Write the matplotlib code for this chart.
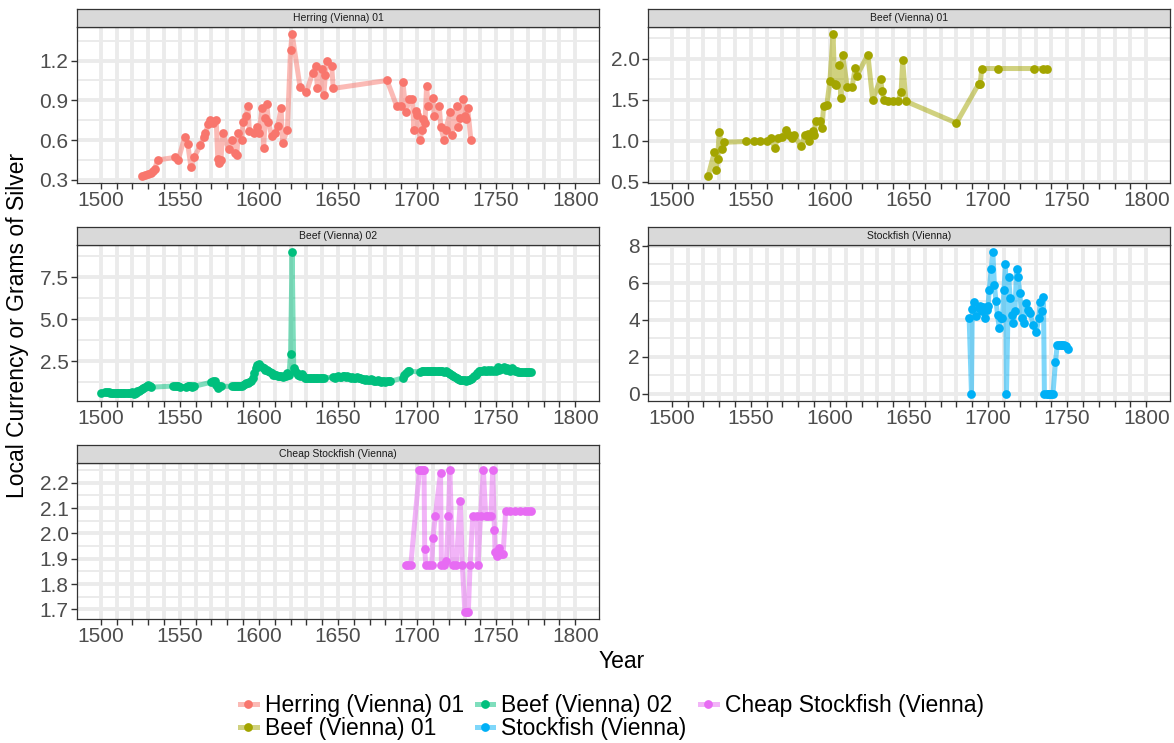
#!/usr/bin/env python3
"""Vienna price series, one small panel per commodity."""
import matplotlib
matplotlib.use("Agg")
import matplotlib.pyplot as plt
from matplotlib.lines import Line2D
from matplotlib.legend_handler import HandlerTuple

plt.rcParams['font.family'] = ['Liberation Sans', 'DejaVu Sans']

# --- data ------------------------------------------------------------------
herring_year = [1526, 1528, 1530, 1532, 1533, 1534, 1536,
                1547, 1549, 1553, 1555, 1557, 1559,
                1563, 1565, 1566, 1568, 1569, 1571, 1573,
                1574, 1575, 1576, 1577,
                1581, 1583, 1585, 1586, 1587, 1589, 1590,
                1592, 1593, 1594, 1597, 1599, 1600,
                1602, 1603, 1604, 1605, 1606, 1608, 1610,
                1612, 1614, 1615, 1618, 1620, 1621,
                1626, 1630, 1634, 1636, 1637, 1640, 1641, 1642, 1643, 1646, 1647,
                1681, 1687, 1690, 1691, 1693, 1695, 1697, 1698, 1699, 1700,
                1702, 1703, 1704, 1705, 1706, 1707, 1710, 1711,
                1714, 1715, 1717, 1718, 1721, 1722,
                1725, 1726, 1727, 1729, 1730, 1731, 1732, 1734]
herring_value = [0.33, 0.34, 0.345, 0.35, 0.37, 0.38, 0.45,
                 0.47, 0.45, 0.62, 0.57, 0.40, 0.47,
                 0.56, 0.62, 0.65, 0.72, 0.75, 0.73, 0.75,
                 0.46, 0.43, 0.45, 0.65,
                 0.53, 0.60, 0.50, 0.49, 0.65, 0.60, 0.74,
                 0.78, 0.86, 0.67, 0.65, 0.70, 0.65,
                 0.84, 0.54, 0.77, 0.87, 0.74, 0.63, 0.65,
                 0.71, 0.84, 0.58, 0.68, 1.28, 1.40,
                 1.00, 0.96, 1.11, 1.16, 0.99, 1.14, 0.94, 1.09, 1.20, 1.16, 0.99,
                 1.05, 0.86, 0.86, 1.04, 0.81, 0.91, 0.91, 0.68, 0.82, 0.79,
                 0.60, 0.68, 0.76, 0.73, 1.01, 0.86, 0.92, 0.78,
                 0.86, 0.70, 0.60, 0.68, 0.81, 0.64,
                 0.86, 0.70, 0.77, 0.91, 0.78, 0.76, 0.84, 0.60]

beef1_year = [1523, 1527, 1528, 1529, 1530, 1532, 1533,
              1547, 1552, 1556, 1560, 1563, 1565, 1567, 1570, 1572, 1574, 1576, 1577,
              1582, 1584, 1586, 1587, 1589, 1590, 1591, 1594, 1595, 1596, 1598,
              1600, 1602, 1603, 1604, 1606, 1607, 1608, 1611, 1614, 1616, 1617,
              1624, 1627, 1632, 1633, 1634, 1637, 1640, 1643, 1645, 1646, 1648,
              1680, 1694, 1695, 1696, 1706, 1729, 1735, 1737]
beef1_value = [0.57, 0.86, 0.64, 0.78, 1.10, 0.90, 0.98,
               0.99, 0.99, 0.99, 0.99, 1.03, 0.91, 1.03, 1.04, 1.13, 1.07, 1.03, 1.07,
               0.93, 1.07, 1.08, 0.99, 1.12, 1.07, 1.235, 1.235, 1.15, 1.42, 1.43,
               1.73, 2.30, 1.69, 1.68, 1.92, 1.52, 2.05, 1.65, 1.65, 1.89, 1.79,
               2.05, 1.50, 1.75, 1.61, 1.50, 1.48, 1.48, 1.48, 1.59, 1.98, 1.48,
               1.215, 1.69, 1.69, 1.88, 1.88, 1.88, 1.88, 1.88]

beef2_year = [1500, 1503, 1504, 1505, 1506, 1507, 1508, 1509, 1510, 1511,
              1512, 1513, 1514, 1515, 1516, 1517, 1518, 1519, 1520, 1521,
              1522, 1523, 1524, 1525, 1526, 1527, 1528, 1529, 1530, 1531, 1532,
              1546, 1547, 1548, 1549, 1550,
              1554, 1555, 1556, 1557, 1558, 1559,
              1570, 1571, 1572, 1573, 1574, 1575, 1576,
              1583, 1584, 1585, 1586, 1587, 1588, 1589, 1590,
              1591, 1592, 1593, 1594, 1595, 1596, 1597, 1598, 1599,
              1600, 1601, 1602, 1603, 1604, 1605, 1606, 1607, 1608,
              1609, 1610, 1611, 1612, 1613, 1614, 1615, 1616, 1617, 1618, 1619,
              1620, 1621,
              1622, 1623, 1624, 1625, 1626, 1627, 1628,
              1629, 1630, 1631, 1632, 1633, 1634, 1635, 1636, 1637, 1638, 1639, 1640, 1641,
              1647, 1648, 1649, 1650, 1651, 1652, 1653, 1654, 1655,
              1656, 1657, 1658, 1659, 1660, 1661, 1662, 1663, 1664,
              1665, 1666, 1667, 1668, 1669, 1670, 1671, 1672,
              1673, 1674, 1675, 1676, 1677, 1678, 1679, 1680, 1681, 1682, 1683,
              1691, 1692, 1693, 1694, 1695,
              1702, 1703, 1704, 1705, 1706, 1707, 1708, 1709, 1710, 1711, 1712,
              1713, 1714, 1715, 1716, 1717, 1718, 1719, 1720, 1721, 1722,
              1723, 1724, 1725, 1726, 1727, 1728, 1729,
              1730, 1731, 1732, 1733, 1734, 1735, 1736,
              1737, 1738, 1739, 1740, 1741, 1742, 1743, 1744, 1745, 1746, 1747, 1748, 1749,
              1750, 1751, 1752, 1753, 1754, 1755, 1756, 1757, 1758, 1759, 1760, 1761, 1762,
              1763, 1764, 1765, 1766, 1767, 1768, 1769, 1770, 1771, 1772]
beef2_value = [0.60, 0.65, 0.66, 0.64, 0.62, 0.60, 0.60, 0.60, 0.60, 0.60,
               0.60, 0.60, 0.60, 0.60, 0.60, 0.62, 0.62, 0.62, 0.65, 0.55,
               0.62, 0.70, 0.75, 0.80, 0.85, 0.90, 0.95, 1.00, 1.10, 1.05, 0.95,
               1.02, 1.00, 1.00, 1.02, 0.98,
               0.98, 1.00, 1.00, 1.00, 0.98, 1.00,
               1.25, 1.30, 1.34, 1.06, 0.90, 1.00, 1.00,
               1.00, 1.00, 1.02, 1.00, 1.00, 1.00, 1.02, 1.08,
               1.14, 1.20, 1.20, 1.26, 1.30, 1.50, 1.80, 2.10, 2.30,
               2.34, 2.24, 2.15, 2.10, 2.00, 1.95, 1.90, 1.85, 1.80,
               1.70, 1.66, 1.66, 1.60, 1.62, 1.60, 1.58, 1.60, 1.60, 1.80, 1.70,
               2.94, 9.00,
               2.10, 1.94, 1.80, 1.66, 1.60, 1.74, 1.60,
               1.50, 1.52, 1.48, 1.50, 1.50, 1.48, 1.50, 1.50, 1.52, 1.50, 1.48, 1.50, 1.50,
               1.55, 1.50, 1.55, 1.60, 1.55, 1.55, 1.60, 1.60, 1.55,
               1.60, 1.55, 1.50, 1.55, 1.50, 1.50, 1.55, 1.50, 1.50,
               1.45, 1.45, 1.40, 1.45, 1.40, 1.40, 1.45, 1.40,
               1.30, 1.30, 1.35, 1.30, 1.25, 1.30, 1.30, 1.25, 1.30, 1.30, 1.30,
               1.50, 1.70, 1.80, 1.90, 1.90,
               1.86, 1.90, 1.90, 1.94, 1.90, 1.90, 1.90, 1.94, 1.90, 1.90, 1.94,
               1.90, 1.90, 1.94, 1.90, 1.86, 1.90, 1.86, 1.80, 1.75, 1.70,
               1.60, 1.55, 1.50, 1.45, 1.40, 1.40, 1.38,
               1.36, 1.34, 1.36, 1.40, 1.45, 1.50, 1.60,
               1.70, 1.80, 1.90, 1.94, 1.94, 1.96, 1.94, 1.90, 1.96, 1.94, 2.00, 1.94, 2.00,
               1.90, 2.14, 2.00, 2.05, 2.10, 2.14, 2.00, 2.10, 2.00, 1.94, 2.10, 2.00, 1.94,
               1.90, 1.86, 1.86, 1.84, 1.86, 1.86, 1.84, 1.86, 1.86, 1.86]

stock_year = [1688, 1689.5, 1690, 1691, 1692.5, 1694, 1695, 1696, 1697, 1698,
              1699, 1700, 1700.7, 1702, 1703, 1704, 1705, 1706, 1707, 1708,
              1709, 1710, 1711, 1711.6, 1713, 1714, 1715, 1716, 1717, 1718,
              1719, 1720, 1721.5, 1722.5, 1724, 1725, 1726.5, 1728.5, 1730.5, 1732,
              1733, 1734, 1735, 1735.6, 1737, 1738, 1739, 1740, 1741, 1742.6,
              1743.7, 1745, 1746, 1747, 1748, 1749.5, 1750.7]
stock_value = [4.13, 0.00, 4.58, 4.95, 4.22, 4.64, 4.76, 4.49, 4.70, 4.09,
               4.53, 4.76, 5.62, 6.76, 7.67, 5.91, 5.00, 4.27, 3.55, 4.13,
               4.09, 5.62, 7.00, 0.00, 6.30, 5.18, 4.27, 3.85, 4.49, 6.76,
               6.30, 5.44, 4.13, 3.85, 4.89, 4.53, 4.40, 3.73, 3.36, 4.09,
               4.95, 4.49, 5.25, 0.00, 0.00, 0.00, 0.00, 0.00, 0.00, 1.73,
               2.64, 2.64, 2.64, 2.64, 2.64, 2.60, 2.45]

cheap_year = [1693, 1694, 1696, 1701.5, 1702.5, 1703.5, 1704.4, 1704.8, 1705.5, 1707.5,
              1709.3, 1710, 1711.5, 1714.8, 1715.4, 1717, 1718.5, 1719.8, 1720.7, 1722.5,
              1724.7, 1727.3, 1728.6, 1730.2, 1731.3, 1732.4, 1733.5, 1735.2, 1737.9, 1738.5,
              1740.1, 1741.9, 1743.4, 1745, 1746.7, 1747.8, 1748.9, 1749.3, 1750.6, 1751.5,
              1752.9, 1754.4, 1756, 1758.8, 1762, 1765, 1768, 1770, 1772]
cheap_value = [1.875, 1.875, 1.875, 2.25, 2.25, 2.25, 2.25, 1.94, 1.875, 1.875,
               1.875, 1.98, 2.067, 2.24, 1.875, 1.875, 1.89, 2.067, 2.25, 1.875,
               1.875, 2.128, 1.875, 1.69, 1.69, 1.69, 1.875, 2.067, 2.067, 1.875,
               2.067, 2.25, 2.067, 2.067, 2.067, 2.25, 2.014, 1.925, 1.912, 1.943,
               1.92, 1.92, 2.089, 2.089, 2.089, 2.089, 2.089, 2.089, 2.089]

series_names = ['Herring (Vienna) 01', 'Beef (Vienna) 01', 'Beef (Vienna) 02',
                'Stockfish (Vienna)', 'Cheap Stockfish (Vienna)']
series_colors = ['#F8766D', '#A3A500', '#00BF7D', '#00B0F6', '#E76BF3']
x_breaks = list(range(1500, 1801, 10))

# --- layout (pixel boxes of the 1174x743 reference) -------------------------
W, H = 1174, 743
cols = [(77, 599), (648, 1170)]
rows = [(9, 27, 183), (227, 245, 401), (445, 463, 619)]  # strip top, plot top, plot bottom

panels = [
    (herring_year, herring_value, 0, 0, [0.3, 0.6, 0.9, 1.2], '{:.1f}'),
    (beef1_year, beef1_value, 1, 0, [0.5, 1.0, 1.5, 2.0], '{:.1f}'),
    (beef2_year, beef2_value, 0, 1, [2.5, 5.0, 7.5], '{:.1f}'),
    (stock_year, stock_value, 1, 1, [0, 2, 4, 6, 8], '{:.0f}'),
    (cheap_year, cheap_value, 0, 2, [1.7, 1.8, 1.9, 2.0, 2.1, 2.2], '{:.1f}'),
]

fig = plt.figure(figsize=(11.74, 7.43), dpi=100)


def frac(x0, y0, x1, y1):
    return [x0 / W, 1 - y1 / H, (x1 - x0) / W, (y1 - y0) / H]


for i, (yr, val, c, r, yticks, fmt) in enumerate(panels):
    x0, x1 = cols[c]
    s0, p0, p1 = rows[r]
    color = series_colors[i]

    ax = fig.add_axes(frac(x0, p0, x1, p1))
    ax.plot(yr, val, color=color, lw=3.6, alpha=0.5, solid_joinstyle='round', zorder=3)
    ax.plot(yr, val, 'o', color=color, ms=6.3, mew=0, zorder=4)
    ax.set_xlim(1485, 1815)
    lo, hi = min(val), max(val)
    pad = (hi - lo) * 0.05
    ax.set_ylim(lo - pad, hi + pad)

    ax.set_xticks(x_breaks)
    ax.set_xticklabels([str(b) if b % 50 == 0 else '' for b in x_breaks])
    ax.set_yticks(yticks)
    ax.set_yticklabels([fmt.format(t) for t in yticks])
    step = yticks[1] - yticks[0]
    minor = [yticks[0] - step / 2] + [t + step / 2 for t in yticks]
    ax.set_yticks([m for m in minor if lo - pad < m < hi + pad], minor=True)

    ax.set_axisbelow(True)
    ax.grid(True, which='major', color='#EBEBEB', lw=2.8)
    ax.grid(True, which='minor', axis='y', color='#EBEBEB', lw=1.4)
    ax.tick_params(which='major', length=4, width=1, color='#333333',
                   labelsize=15, labelcolor='#4D4D4D', pad=2)
    ax.tick_params(which='minor', length=0)
    for sp in ax.spines.values():
        sp.set_color('#333333')
        sp.set_linewidth(0.9)

    strip = fig.add_axes(frac(x0, s0, x1, p0))
    strip.set_facecolor('#D9D9D9')
    strip.set_xticks([])
    strip.set_yticks([])
    for sp in strip.spines.values():
        sp.set_color('#333333')
        sp.set_linewidth(0.9)
    strip.text(0.5, 0.5, series_names[i], ha='center', va='center',
               fontsize=7.5, color='#1A1A1A', transform=strip.transAxes)

fig.text(18 / W, 1 - 325 / H, 'Local Currency or Grams of Silver', rotation=90,
         ha='center', va='center', fontsize=16.5)
fig.text(622 / W, 1 - 662 / H, 'Year', ha='center', va='center', fontsize=16.5)

handles = []
for c in series_colors:
    ln = Line2D([], [], color=c, lw=3.6, alpha=0.5)
    pt = Line2D([], [], color=c, marker='o', ms=6.3, mew=0, lw=0)
    handles.append((ln, pt))
fig.legend(handles, series_names, ncol=3, loc='center',
           bbox_to_anchor=(612 / W, 1 - 717 / H), frameon=False, fontsize=16.5,
           handler_map={tuple: HandlerTuple(ndivide=1)},
           handlelength=0.7, handletextpad=0.35, columnspacing=0.6,
           labelspacing=0.0)

fig.savefig('out.png', dpi=100)
